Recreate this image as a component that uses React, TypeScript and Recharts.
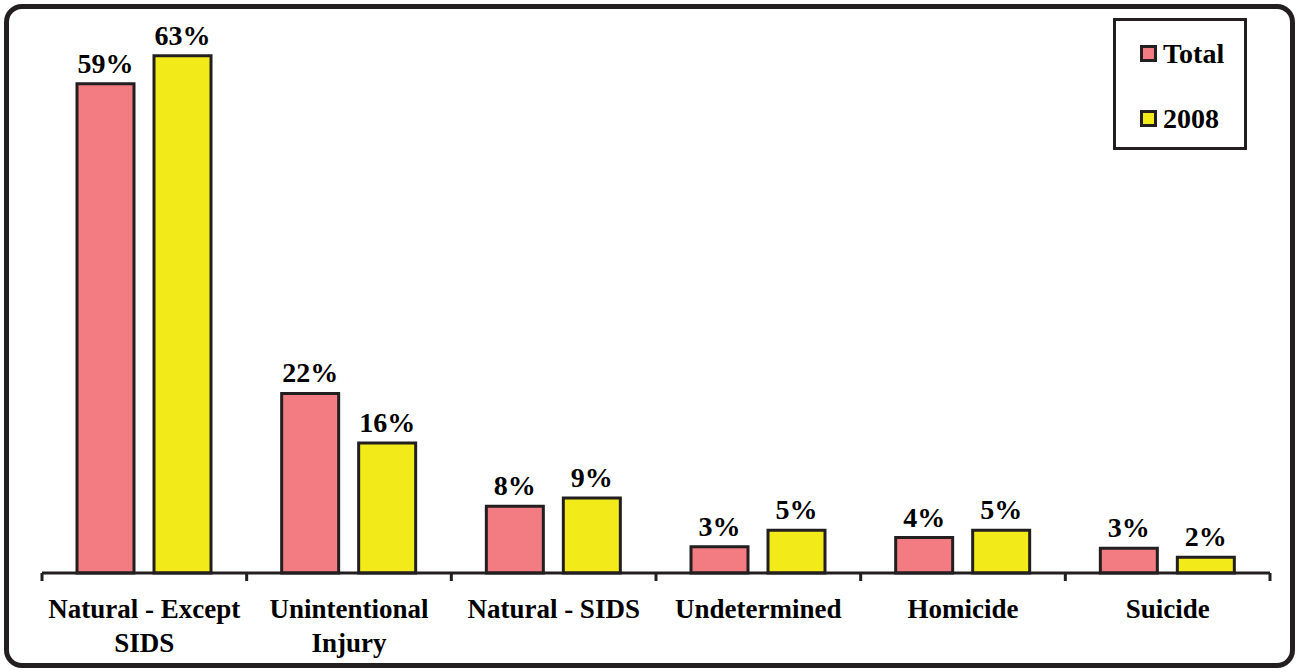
import { BarChart, Bar, XAxis, YAxis, Legend, LabelList } from 'recharts'

const categories = ['Natural - Except\nSIDS', 'Unintentional\nInjury', 'Natural - SIDS', 'Undetermined', 'Homicide', 'Suicide']
const seriesNames = ['Total', '2008']
const totalValues = [59.4, 21.8, 8.1, 3.2, 4.3, 3.0]
const values2008 = [62.8, 15.8, 9.1, 5.2, 5.2, 1.9]

const data = categories.map((name, i) => ({ name, total: totalValues[i], y2008: values2008[i] }))
const boundaryTicks = [...categories.map((_, i) => i), categories.length]

const font = '"Liberation Serif", "Times New Roman", serif'
const ink = '#231f20'

function CategoryTick(props: any) {
  const { x, y, payload } = props
  const lines = String(payload.value).split('\n')
  return (
    <text x={x} y={y} textAnchor="middle" fontFamily={font} fontWeight="bold" fontSize={27} fill="#000">
      {lines.map((line, i) => (
        <tspan key={i} x={x} dy={i === 0 ? 44 : 34}>{line}</tspan>
      ))}
    </text>
  )
}

function LegendBox(props: any) {
  const items = [...(props.payload || [])].sort(
    (a: any, b: any) => seriesNames.indexOf(a.value) - seriesNames.indexOf(b.value)
  )
  return (
    <div style={{ width: 134, height: 132, border: `3px solid ${ink}`, boxSizing: 'border-box', background: '#fff', fontFamily: font }}>
      {items.map((item: any) => (
        <div key={item.value} style={{ height: 65, display: 'flex', alignItems: 'center', paddingLeft: 24 }}>
          <span style={{ width: 17, height: 17, boxSizing: 'border-box', border: `3px solid ${ink}`, background: item.color, marginRight: 6 }} />
          <span style={{ fontSize: 28, fontWeight: 'bold', color: '#000' }}>{item.value}</span>
        </div>
      ))}
    </div>
  )
}

const pct = (v: any) => `${Math.round(Number(v))}%`

export default function App() {
  return (
    <div style={{ position: 'absolute', left: 0, top: 0, width: 1299, height: 672, background: '#fff' }}>
      <div style={{ position: 'absolute', left: 4, top: 4, width: 1291, height: 664, border: `5px solid ${ink}`, borderRadius: 18, boxSizing: 'border-box' }} />
      <BarChart
        width={1299}
        height={672}
        data={data}
        margin={{ top: 37.7, right: 29, bottom: 0, left: 42 }}
        barSize={57}
        barGap={20}
        style={{ position: 'absolute', left: 0, top: 0 }}
      >
        <XAxis
          xAxisId="b"
          dataKey="name"
          height={98}
          interval={0}
          tickLine={false}
          tickSize={0}
          tickMargin={0}
          axisLine={false}
          tick={<CategoryTick />}
        />
        <XAxis
          xAxisId="a"
          type="number"
          dataKey="idx"
          domain={[0, categories.length]}
          allowDataOverflow
          ticks={boundaryTicks}
          interval={0}
          height={1}
          tickSize={8}
          tickFormatter={() => ''}
          tickLine={{ stroke: ink, strokeWidth: 3 }}
          axisLine={{ stroke: ink, strokeWidth: 3 }}
        />
        <YAxis hide domain={[0, 65]} />
        <Legend
          layout="horizontal"
          verticalAlign="middle"
          align="center"
          content={<LegendBox />}
          wrapperStyle={{ position: 'absolute', left: 1113, top: 18, width: 134, height: 132 }}
        />
        <Bar xAxisId="b" dataKey="total" name="Total" fill="#f27c82" stroke={ink} strokeWidth={3} isAnimationActive={false}>
          <LabelList dataKey="total" position="top" offset={11} formatter={pct} fill="#000" fontFamily={font} fontWeight="bold" fontSize={28} />
        </Bar>
        <Bar xAxisId="b" dataKey="y2008" name="2008" fill="#f2eb19" stroke={ink} strokeWidth={3} isAnimationActive={false}>
          <LabelList dataKey="y2008" position="top" offset={11} formatter={pct} fill="#000" fontFamily={font} fontWeight="bold" fontSize={28} />
        </Bar>
      </BarChart>
    </div>
  )
}
